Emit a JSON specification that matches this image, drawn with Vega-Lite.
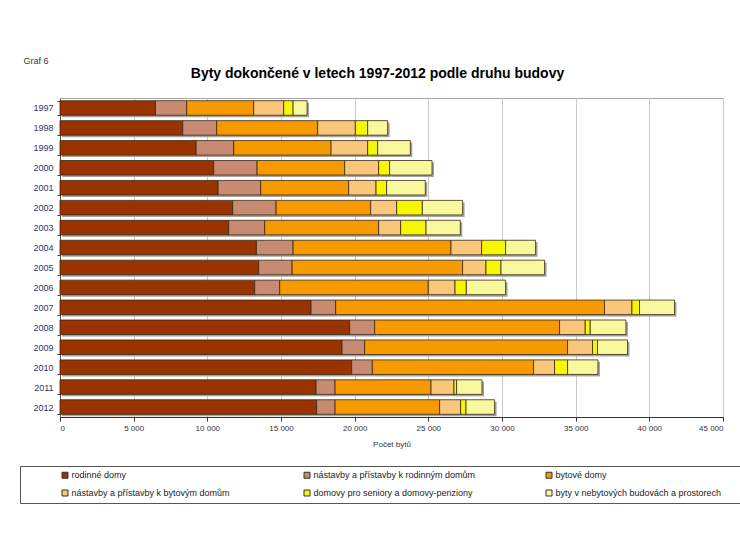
{
  "$schema": "https://vega.github.io/schema/vega-lite/v6.json",
  "width": 663,
  "height": 319,
  "autosize": {"type": "none"},
  "padding": {"left": 60, "top": 98, "right": 17, "bottom": 129},
  "background": "white",
  "config": {
    "font": "Liberation Sans",
    "view": {"stroke": "#a6a6a6", "strokeWidth": 1}
  },
  "title": {
    "text": "Byty dokončené v letech 1997-2012 podle druhu budovy",
    "fontSize": 14,
    "font": "Liberation Sans",
    "fontWeight": "bold",
    "color": "#000000",
    "anchor": "middle",
    "dx": -14,
    "offset": -25
  },
  "data": {
    "values": [
      {"rok": 1997, "rodinné domy": 6480, "nástavby a přístavby k rodinným domům": 2122, "bytové domy": 4545, "nástavby a přístavby k bytovým domům": 2036, "domovy pro seniory a domovy-penziony": 637, "byty v nebytových budovách a prostorech": 950},
      {"rok": 1998, "rodinné domy": 8331, "nástavby a přístavby k rodinným domům": 2306, "bytové domy": 6853, "nástavby a přístavby k bytovým domům": 2557, "domovy pro seniory a domovy-penziony": 834, "byty v nebytových budovách a prostorech": 1357},
      {"rok": 1999, "rodinné domy": 9240, "nástavby a přístavby k rodinným domům": 2551, "bytové domy": 6607, "nástavby a přístavby k bytovým domům": 2483, "domovy pro seniory a domovy-penziony": 679, "byty v nebytových budovách a prostorech": 2218},
      {"rok": 2000, "rodinné domy": 10434, "nástavby a přístavby k rodinným domům": 2944, "bytové domy": 5943, "nástavby a přístavby k bytovým domům": 2307, "domovy pro seniory a domovy-penziony": 745, "byty v nebytových budovách a prostorech": 2877},
      {"rok": 2001, "rodinné domy": 10732, "nástavby a přístavby k rodinným domům": 2890, "bytové domy": 5970, "nástavby a přístavby k bytovým domům": 1859, "domovy pro seniory a domovy-penziony": 719, "byty v nebytových budovách a prostorech": 2626},
      {"rok": 2002, "rodinné domy": 11723, "nástavby a přístavby k rodinným domům": 2944, "bytové domy": 6418, "nástavby a přístavby k bytovým domům": 1764, "domovy pro seniory a domovy-penziony": 1743, "byty v nebytových budovách a prostorech": 2734},
      {"rok": 2003, "rodinné domy": 11451, "nástavby a přístavby k rodinným domům": 2443, "bytové domy": 7734, "nástavby a přístavby k bytovým domům": 1492, "domovy pro seniory a domovy-penziony": 1723, "byty v nebytových budovách a prostorech": 2327},
      {"rok": 2004, "rodinné domy": 13331, "nástavby a přístavby k rodinným domům": 2489, "bytové domy": 10719, "nástavby a přístavby k bytovým domům": 2076, "domovy pro seniory a domovy-penziony": 1628, "byty v nebytových budovách a prostorech": 2036},
      {"rok": 2005, "rodinné domy": 13487, "nástavby a přístavby k rodinným domům": 2265, "bytové domy": 11574, "nástavby a přístavby k bytovým domům": 1587, "domovy pro seniory a domovy-penziony": 1018, "byty v nebytových budovách a prostorech": 2958},
      {"rok": 2006, "rodinné domy": 13215, "nástavby a přístavby k rodinným domům": 1696, "bytové domy": 10089, "nástavby a přístavby k bytovým domům": 1810, "domovy pro seniory a domovy-penziony": 767, "byty v nebytových budovách a prostorech": 2666},
      {"rok": 2007, "rodinné domy": 17041, "nástavby a přístavby k rodinným domům": 1669, "bytové domy": 18249, "nástavby a přístavby k bytovým domům": 1859, "domovy pro seniory a domovy-penziony": 516, "byty v nebytových budovách a prostorech": 2374},
      {"rok": 2008, "rodinné domy": 19660, "nástavby a přístavby k rodinným domům": 1696, "bytové domy": 12550, "nástavby a přístavby k bytovým domům": 1744, "domovy pro seniory a domovy-penziony": 339, "byty v nebytových budovách a prostorech": 2422},
      {"rok": 2009, "rodinné domy": 19144, "nástavby a přístavby k rodinným domům": 1534, "bytové domy": 13771, "nástavby a přístavby k bytovým domům": 1696, "domovy pro seniory a domovy-penziony": 339, "byty v nebytových budovách a prostorech": 2036},
      {"rok": 2010, "rodinné domy": 19796, "nástavby a přístavby k rodinným domům": 1404, "bytové domy": 10943, "nástavby a přístavby k bytovým domům": 1424, "domovy pro seniory a domovy-penziony": 882, "byty v nebytových budovách a prostorech": 2063},
      {"rok": 2011, "rodinné domy": 17380, "nástavby a přístavby k rodinným domům": 1290, "bytové domy": 6512, "nástavby a přístavby k bytovým domům": 1561, "domovy pro seniory a domovy-penziony": 176, "byty v nebytových budovách a prostorech": 1723},
      {"rok": 2012, "rodinné domy": 17421, "nástavby a přístavby k rodinným domům": 1249, "bytové domy": 7096, "nástavby a přístavby k bytovým domům": 1424, "domovy pro seniory a domovy-penziony": 367, "byty v nebytových budovách a prostorech": 1940}
    ]
  },
  "transform": [
    {"fold": ["rodinné domy", "nástavby a přístavby k rodinným domům", "bytové domy", "nástavby a přístavby k bytovým domům", "domovy pro seniory a domovy-penziony", "byty v nebytových budovách a prostorech"], "as": ["druh", "pocet"]},
    {"calculate": "indexof(['rodinné domy', 'nástavby a přístavby k rodinným domům', 'bytové domy', 'nástavby a přístavby k bytovým domům', 'domovy pro seniory a domovy-penziony', 'byty v nebytových budovách a prostorech'], datum.druh)", "as": "poradi"}
  ],
  "encoding": {
    "y": {
      "field": "rok",
      "type": "ordinal",
      "scale": {"paddingInner": 0.27, "paddingOuter": 0.135},
      "axis": {
        "title": "Graf 6",
        "titleAngle": 0,
        "titleX": -37,
        "titleY": -38,
        "titleAlign": "left",
        "titleBaseline": "middle",
        "titleFontSize": 9,
        "titleFontWeight": "normal",
        "titleColor": "#333333",
        "labelFontSize": 9,
        "labelColor": "#333366",
        "tickBand": "extent",
        "tickSize": 3,
        "tickColor": "#444444",
        "domainColor": "#555555",
        "labelPadding": 4,
        "grid": false
      }
    },
    "x": {
      "field": "pocet",
      "type": "quantitative",
      "stack": "zero",
      "scale": {"domain": [0, 45000], "nice": false},
      "axis": {
        "title": "Počet bytů",
        "titleFontSize": 8,
        "titleFontWeight": "normal",
        "titleColor": "#333333",
        "titlePadding": 8,
        "values": [0, 5000, 10000, 15000, 20000, 25000, 30000, 35000, 40000, 45000],
        "labelExpr": "replace(format(datum.value, ','), ',', ' ')",
        "labelFontSize": 8,
        "labelColor": "#333333",
        "labelPadding": 3,
        "tickColor": "#333333",
        "tickSize": 4,
        "domainColor": "#333333",
        "grid": true,
        "gridColor": "#c8c8c8"
      }
    },
    "order": {"field": "poradi", "type": "quantitative"}
  },
  "layer": [
    {"mark": {"type": "bar", "color": "#a3a3a3", "xOffset": 2, "yOffset": 2}},
    {
      "mark": {"type": "bar", "stroke": "#3a2a14", "strokeWidth": 0.8},
      "encoding": {
        "color": {
          "field": "druh",
          "type": "nominal",
          "sort": ["rodinné domy", "nástavby a přístavby k rodinným domům", "bytové domy", "nástavby a přístavby k bytovým domům", "domovy pro seniory a domovy-penziony", "byty v nebytových budovách a prostorech"],
          "scale": {
            "domain": ["rodinné domy", "nástavby a přístavby k rodinným domům", "bytové domy", "nástavby a přístavby k bytovým domům", "domovy pro seniory a domovy-penziony", "byty v nebytových budovách a prostorech"],
            "range": ["#993300", "#c98a72", "#f79a00", "#f9c67a", "#f7f700", "#f8f89c"]
          },
          "legend": {
            "orient": "none",
            "legendX": -40,
            "legendY": 368,
            "direction": "horizontal",
            "columns": 3,
            "title": " ",
            "titleOrient": "right",
            "titlePadding": 40,
            "symbolType": "square",
            "symbolSize": 36,
            "symbolOffset": 36,
            "symbolStrokeColor": "#333333",
            "symbolStrokeWidth": 1,
            "labelFontSize": 9,
            "labelColor": "#222222",
            "labelOffset": 2,
            "labelLimit": 300,
            "columnPadding": 29,
            "rowPadding": 7,
            "padding": 4.5,
            "strokeColor": "#555555",
            "gridAlign": "all"
          }
        }
      }
    }
  ]
}
